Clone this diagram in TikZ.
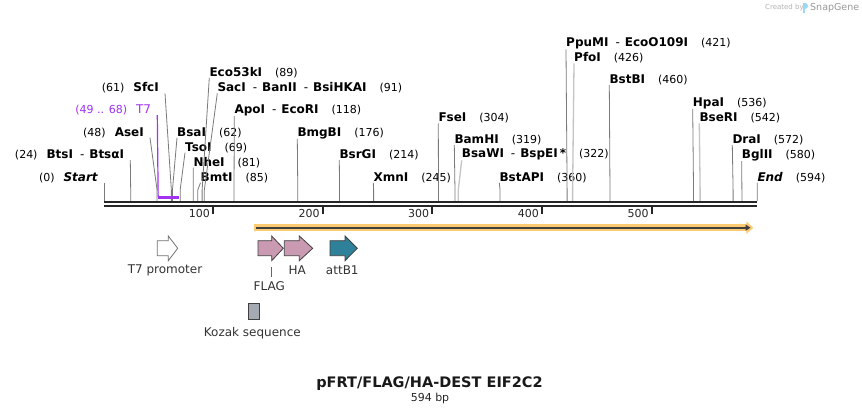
\documentclass[tikz,border=0pt]{standalone}
\usepackage{fontspec}
\setmainfont{DejaVu Sans}
\usetikzlibrary{arrows.meta}

\definecolor{cutgray}{HTML}{7A7A7A}
\definecolor{cutlight}{HTML}{C4C4C4}
\definecolor{t7violet}{RGB}{160,50,240}
\definecolor{orfband}{RGB}{252,202,112}
\definecolor{tagpink}{HTML}{C99AB2}
\definecolor{attteal}{HTML}{2F8199}
\definecolor{kozakgray}{HTML}{A5AAB2}
\definecolor{logoblue}{HTML}{9AD8F5}

\newcommand{\cutpos}[1]{{\fontsize{11}{13}\selectfont(#1)}}
\newcommand{\andalso}{\hspace{7pt}-\hspace{5pt}}

\begin{document}
\begin{tikzpicture}[x=1pt,y=-1pt,
    enz/.style={font=\fontsize{12}{14}\selectfont, inner sep=0pt, anchor=base west},
    lenz/.style={font=\fontsize{12}{14}\selectfont, inner ysep=0pt, inner xsep=6pt, anchor=base east},
    cut/.style={cutgray, line width=0.8pt},
    cutpale/.style={cutlight, line width=1.3pt},
    featlab/.style={font=\fontsize{12}{14}\selectfont, text=black!80, inner sep=0pt},
    featbox/.style={draw=black!75, line width=0.8pt}]
\useasboundingbox (0,0) rectangle (862,414);
\fill [white] (0,0) rectangle (862,414);

% cut sites on the backbone
\foreach \p in {0,24,48,49,61,62,68,69,81,85,89,91,118,176,214,245,304,319,322,360,421,426,460,536,542,572,580,594}
    \coordinate (c\p) at ({104.3+1.0993*\p},201);

% labels on the left
\node [lenz] (start) at (104.3,181.1) {\cutpos{0}\hspace{9pt}\textbf{\textit{Start}}};
\node [lenz] (btsi) at (130.3,158.4) {\cutpos{24}\hspace{9pt}\textbf{BtsI}\andalso\textbf{BtsαI}};
\node [lenz] (asei) at (150,136.1) {\cutpos{48}\hspace{9pt}\textbf{AseI}};
\node [lenz] (sfci) at (165,91.7) {\cutpos{61}\hspace{9pt}\textbf{SfcI}};
\node [lenz, text=t7violet] (t7lab) at (157.3,113.4) {\cutpos{49 .. 68}\hspace{9pt}T7};

% labels on the right
\node [enz] (bsai) at (177,136.1) {\textbf{BsaI}\hspace{13pt}\cutpos{62}};
\node [enz] (tsoi) at (185,151.1) {\textbf{TsoI}\hspace{13pt}\cutpos{69}};
\node [enz] (nhei) at (193.3,166.1) {\textbf{NheI}\hspace{13pt}\cutpos{81}};
\node [enz] (bmti) at (200.5,181.1) {\textbf{BmtI}\hspace{13pt}\cutpos{85}};
\node [enz] (eco53ki) at (209.3,76.1) {\textbf{Eco53kI}\hspace{13pt}\cutpos{89}};
\node [enz] (saci) at (217.3,91.7) {\textbf{SacI}\andalso\textbf{BanII}\andalso\textbf{BsiHKAI}\hspace{13pt}\cutpos{91}};
\node [enz] (apoi) at (234.3,113.4) {\textbf{ApoI}\andalso\textbf{EcoRI}\hspace{13pt}\cutpos{118}};
\node [enz] (bmgbi) at (297.3,136.1) {\textbf{BmgBI}\hspace{13pt}\cutpos{176}};
\node [enz] (bsrgi) at (339.3,158.4) {\textbf{BsrGI}\hspace{13pt}\cutpos{214}};
\node [enz] (xmni) at (373.3,181.1) {\textbf{XmnI}\hspace{13pt}\cutpos{245}};
\node [enz] (fsei) at (438.3,121.7) {\textbf{FseI}\hspace{13pt}\cutpos{304}};
\node [enz] (bamhi) at (454.3,143.4) {\textbf{BamHI}\hspace{13pt}\cutpos{319}};
\node [enz] (bsawi) at (461.7,157.7) {\textbf{BsaWI}\andalso\textbf{BspEI}\,\textbf{*}\hspace{13pt}\cutpos{322}};
\node [enz] (bstapi) at (499.3,181.1) {\textbf{BstAPI}\hspace{13pt}\cutpos{360}};
\node [enz] (ppumi) at (566,46.7) {\textbf{PpuMI}\andalso\textbf{EcoO109I}\hspace{13pt}\cutpos{421}};
\node [enz] (pfoi) at (574,61.7) {\textbf{PfoI}\hspace{13pt}\cutpos{426}};
\node [enz] (bstbi) at (609.3,83.4) {\textbf{BstBI}\hspace{13pt}\cutpos{460}};
\node [enz] (hpai) at (692.7,106.1) {\textbf{HpaI}\hspace{13pt}\cutpos{536}};
\node [enz] (bseri) at (699.3,121.7) {\textbf{BseRI}\hspace{13pt}\cutpos{542}};
\node [enz] (drai) at (732.3,143.4) {\textbf{DraI}\hspace{13pt}\cutpos{572}};
\node [enz] (bglii) at (741.7,158.4) {\textbf{BglII}\hspace{13pt}\cutpos{580}};
\node [enz] (end) at (757.3,181.1) {\textbf{\textit{End}}\hspace{13pt}\cutpos{594}};

% lines from labels to cut sites
\foreach \l/\p in {start/0, btsi/24, asei/48, sfci/61}
    \draw [cut] (\l.south east) -- ([yshift=11pt]c\p) -- (c\p);
\foreach \l/\p in {bsai/62, tsoi/69, nhei/81, bmti/85, eco53ki/89, saci/91, apoi/118, bmgbi/176, bsrgi/214, xmni/245, fsei/304, bamhi/319, bstapi/360, ppumi/421, bstbi/460, hpai/536, drai/572, bglii/580, end/594}
    \draw [cut] (\l.south west) -- ([yshift=11pt]c\p) -- (c\p);
\foreach \l/\p in {bsawi/322, pfoi/426, bseri/542}
    \draw [cutpale] (\l.south west) -- ([yshift=11pt]c\p) -- (c\p);

% T7 span
\draw [t7violet, line width=1.2pt] (t7lab.south east) -- ([yshift=4pt]c49);
\draw [t7violet, line width=2.2pt] ([yshift=3.5pt]c49) -- ([yshift=3.5pt]c68);

% backbone
\draw [black!85, line width=2.3pt] (104.3,202.2) -- (757.3,202.2);
\draw [black!85, line width=2.3pt] (104.3,206.2) -- (757.3,206.2);

% ruler
\foreach \k [count=\i] in {100,200,300,400,500} {
    \draw [black!85, line width=2pt] ({213+109.7*(\i-1)},207.5) -- ++(0,6.5);
    \node [font=\fontsize{11}{13}\selectfont, text=black!85, inner sep=0pt, anchor=east] (tick\k) at ({210+109.7*(\i-1)},213.5) {\k};
}

% open reading frame
\draw [orfband, line width=7pt, -{Triangle[length=7pt,width=12pt]}] (254,227.7) -- (753.3,227.7);
\draw [black!75, line width=2pt, -{Triangle[length=5pt,width=6pt]}] (256,227.7) -- (750.5,227.7);

% features
\draw [draw=black!55, fill=white, line width=0.8pt] (157.3,240.7) -- (168.3,240.7) -- (168.3,236) -- (177.7,248.3) -- (168.3,260.7) -- (168.3,255.7) -- (157.3,255.7) -- cycle;
\draw [featbox, fill=tagpink] (258,240.7) -- (271.7,240.7) -- (271.7,236) -- (283.3,248.3) -- (271.7,260.7) -- (271.7,255.7) -- (258,255.7) -- cycle;
\draw [featbox, fill=tagpink] (284.3,240.7) -- (299.3,240.7) -- (299.3,236) -- (312.7,248.3) -- (299.3,260.7) -- (299.3,255.7) -- (284.3,255.7) -- cycle;
\draw [featbox, fill=attteal] (330,240.7) -- (345,240.7) -- (345,236) -- (357.3,248.3) -- (345,260.7) -- (345,255.7) -- (330,255.7) -- cycle;
\draw [featbox, fill=kozakgray] (248.3,303.3) rectangle (259.3,319.3);

\node [featlab] (t7name) at (165,270) {T7 promoter};
\node [featlab] (haname) at (297.3,270) {HA};
\node [featlab] (attname) at (342.3,270) {attB1};
\node [featlab] (flagname) at (269.3,286) {FLAG};
\draw [black!60, line width=0.8pt] (271.5,267.3) -- (271.5,277.3);
\node [featlab] (kozakname) at (252.3,332.7) {Kozak sequence};

% title
\node [font=\bfseries\fontsize{14.5}{17}\selectfont, text=black!90, inner sep=0pt] (title) at (429.5,384) {pFRT/FLAG/HA-DEST EIF2C2};
\node [font=\fontsize{11}{13}\selectfont, text=black!85, inner sep=0pt] (length) at (430,398.3) {594 bp};

% credit
\node [font=\fontsize{7}{8}\selectfont, text=black!30, inner sep=0pt, anchor=west] (createdby) at (765,7.5) {Created by};
\fill [logoblue] (803,3) rectangle (805.4,13.5);
\fill [logoblue] (805.4,3) .. controls (809,3) and (809,9) .. (805.4,9) -- cycle;
\node [font=\fontsize{9.5}{11}\selectfont, text=black!40, inner sep=0pt, anchor=west] (snapgene) at (810,7.5) {SnapGene};
\end{tikzpicture}
\end{document}
